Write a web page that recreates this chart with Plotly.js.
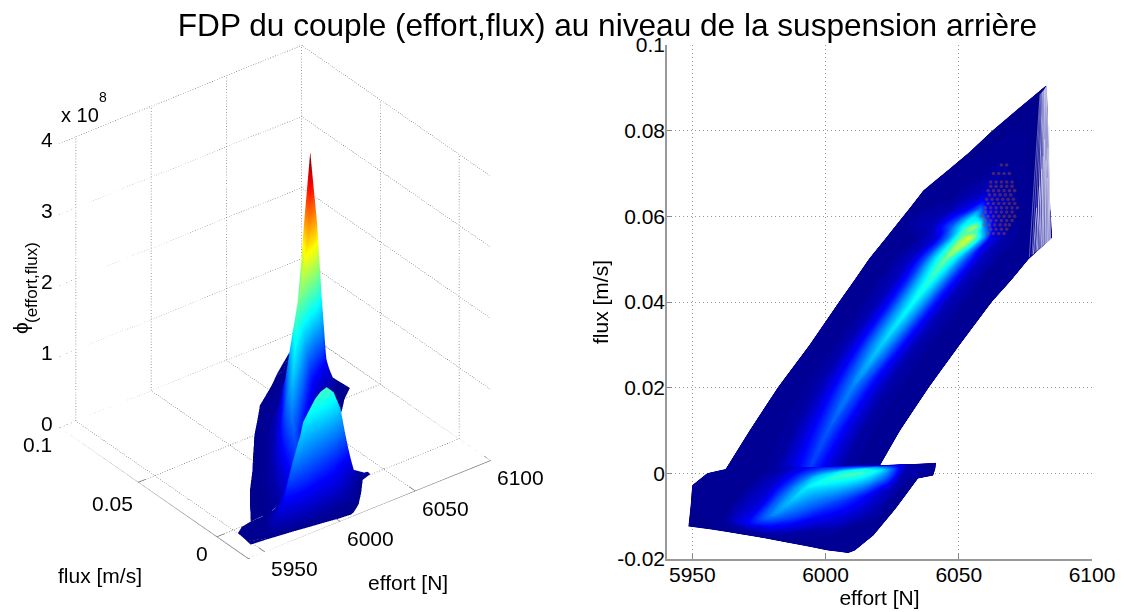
<!DOCTYPE html>
<html><head><meta charset="utf-8">
<script src="https://cdn.plot.ly/plotly-3.0.1.min.js"></script>
<style>html,body{margin:0;padding:0;background:#fff}#g{width:1125px;height:612px}</style>
</head><body><div id="g"></div>
<script>
const effortTicks=[5950,6000,6050,6100];
const fluxTicks2D=[-0.02,0,0.02,0.04,0.06,0.08,0.1];
const fluxTicks3D=[0,0.05,0.1];
const fluxLabelShift=[-15,-26,-22];
const fluxLabelDrop=[-17,-21,-17];
const phiTicks=[0,1,2,3,4];
const jet=[[0,'rgb(0,0,143)'],[0.125,'rgb(0,0,255)'],[0.375,'rgb(0,255,255)'],[0.625,'rgb(255,255,0)'],[0.875,'rgb(255,0,0)'],[1,'rgb(128,0,0)']];

// main ridge sheet: one row per flux level
const bandFlux=[0.001,0.01,0.02,0.03,0.04,0.045,0.05,0.055,0.0575,0.06,0.0615,0.063,0.0645,0.066,0.07,0.075,0.08,0.085,0.0905];
const bandEffort=[
[5962.5,5974,5981,5986,5990,5994,5998,6002,6007,6014,6019.7],
[5971.5,5981,5988,5993,5997,6001,6005,6009,6014,6021,6028],
[5982,5990,5997,6002,6006,6010,6014,6018,6023,6030,6038.7],
[5994,6002,6008,6013,6017,6021,6025,6029,6034,6041,6050.4],
[6005,6014,6020,6025,6029,6033,6037,6041,6046,6053,6062.4],
[6010.7,6019,6026,6031,6035,6039,6043,6047,6052,6059,6069.6],
[6016.2,6025,6032,6037,6041,6045,6049,6053,6058,6065,6076.2],
[6022.7,6034,6041,6046,6050,6054,6058,6062,6067,6074,6085],
[6025.9,6040,6047,6052,6056,6060,6064,6068,6072,6078,6084.8],
[6029.1,6044,6051,6056,6060,6064,6068,6071,6075,6080,6084.6],
[6031,6046,6053,6058,6062,6066,6070,6073,6076,6080,6084.4],
[6032.9,6047,6054,6059,6063,6067,6071,6074,6077,6080,6084.3],
[6034.8,6048,6055,6060,6064,6068,6072,6075,6078,6081,6084.2],
[6036.6,6049,6056,6061,6065,6069,6073,6075.5,6078,6081,6084.1],
[6044.4,6053,6059,6063,6067,6071,6074,6076,6078,6081,6084],
[6054,6060,6064,6067,6070,6073,6075,6077,6079,6081,6083.8],
[6062.5,6067,6070,6072,6074,6076,6077.5,6079,6080,6081.5,6083.6],
[6072,6074,6075.5,6076.5,6078,6079,6080,6081,6082,6082.7,6083.4],
[6082.6,6082.65,6082.7,6082.75,6082.8,6082.85,6082.9,6082.92,6082.95,6082.97,6083]];
const bandPhi=[
[0,.01,.07,.24,.43,.6,.43,.24,.07,.01,0],
[0,.01,.08,.28,.5,.7,.5,.28,.08,.01,0],
[0,.02,.1,.34,.61,.85,.61,.34,.1,.02,0],
[0,.02,.13,.44,.79,1.1,.79,.44,.13,.02,0],
[0,.03,.15,.51,.92,1.28,.92,.51,.15,.03,0],
[0,.03,.17,.56,1.01,1.4,1.01,.56,.17,.03,0],
[0,.03,.19,.64,1.15,1.6,1.15,.64,.19,.03,0],
[0,.04,.24,.8,1.44,2,1.44,.8,.24,.04,0],
[0,.05,.29,.96,1.73,2.4,1.73,.96,.29,.05,0],
[0,.06,.34,1.12,2.02,2.8,2.02,1.12,.34,.06,0],
[0,.07,.39,1.3,2.34,3.25,2.34,1.3,.39,.07,0],
[0,.07,.4,1.34,2.41,3.35,2.41,1.34,.4,.07,0],
[0,.06,.36,1.2,2.16,3,2.16,1.2,.36,.06,0],
[0,.05,.29,.96,1.73,2.4,1.73,.96,.29,.05,0],
[0,.02,.14,.48,.86,1.2,.86,.48,.14,.02,0],
[0,.01,.06,.2,.36,.5,.36,.2,.06,.01,0],
[0,0,.02,.06,.11,.15,.11,.06,.02,0,0],
[0,0,0,.01,.02,.03,.02,.01,0,0,0],
[0,0,0,0,0,0,0,0,0,0,0]];
// same sheet as it reads in the top view, where the spike is lost between grid nodes
const bandPhiTop=[
[0,.01,.07,.24,.43,.6,.43,.24,.07,.01,0],
[0,.01,.08,.28,.5,.7,.5,.28,.08,.01,0],
[0,.02,.1,.34,.61,.85,.61,.34,.1,.02,0],
[0,.02,.13,.44,.79,1.1,.79,.44,.13,.02,0],
[0,.03,.15,.51,.92,1.28,.92,.51,.15,.03,0],
[0,.03,.17,.56,1.01,1.4,1.01,.56,.17,.03,0],
[0,.03,.19,.64,1.15,1.6,1.15,.64,.19,.03,0],
[0,.04,.24,.8,1.44,2,1.2,.35,.1,.02,0],
[0,.15,.7,1.3,1.8,.8,.2,.08,.04,.01,0],
[0,.15,.6,1.15,.6,.2,.08,.04,.02,.01,0],
[0,.1,.4,.8,.3,.12,.06,.03,.02,.01,0],
[0,.06,.25,.5,.22,.1,.05,.03,.01,0,0],
[0,.04,.15,.3,.15,.08,.04,.02,.01,0,0],
[0,.03,.1,.18,.1,.05,.03,.01,0,0,0],
[0,.01,.03,.06,.05,.03,.01,0,0,0,0],
[0,0,.01,.02,.02,.01,0,0,0,0,0],
[0,0,0,0,0,0,0,0,0,0,0],
[0,0,0,0,0,0,0,0,0,0,0],
[0,0,0,0,0,0,0,0,0,0,0]];

// lower fold sheet, rows follow its own crest
const foldEffort=[
[5948.5,5957,5966,5975,5984,5993,6001,6005,6008.5,6009.8,6011,6014,6018],
[5949,5958.5,5968,5977,5986,5995,6004,6007.5,6011,6014.5,6018,6023,6026],
[5949.5,5960,5970,5979,5988,5996,6006,6011,6016,6020.5,6025,6031,6034.7],
[5950,5962,5972,5980,5987,5993,6003,6007.5,6012,6017,6022,6030,6040.4],
[5955.6,5966,5975,5983,5990,5996,6005,6009.5,6014,6019,6024,6032,6041.2],
[5962.5,5970,5978,5985,5992,5998,6007,6011.5,6016,6020.5,6025,6033,6041.5]];
const foldFlux=[
[-.0124,-.0131,-.014,-.0149,-.016,-.017,-.018,-.0183,-.0186,-.0183,-.018,-.0165,-.0145],
[-.0095,-.0125,-.0135,-.0142,-.0142,-.0135,-.0135,-.013,-.0125,-.0122,-.012,-.01,-.0085],
[-.0065,-.0118,-.0128,-.0125,-.0105,-.008,-.0065,-.0058,-.005,-.0042,-.0035,-.0022,-.0012],
[-.0028,-.0108,-.0115,-.0098,-.0065,-.0032,-.001,-.0004,0,.0004,.0008,.0013,-.0005],
[0,-.006,-.0075,-.0055,-.003,-.001,.0003,.0007,.001,.0013,.0016,.002,.001],
[.001,.0011,.0012,.0013,.0014,.0015,.0017,.0018,.0018,.0019,.002,.0022,.0025]];
const foldPhi=[
[0,0,0,0,0,0,0,0,0,0,0,0,0],
[0,0,.02,.05,.08,.08,.05,.04,.03,.025,.02,.01,0],
[0,.01,.15,.4,.6,.68,.6,.52,.42,.28,.15,.03,0],
[0,.03,.45,.85,1.05,1.2,1.4,1.46,1.48,1.36,1.08,.15,.02],
[0,.03,.3,.72,.95,1.08,1.2,1.22,1.2,1,.6,.08,.01],
[0,0,.03,.1,.35,.45,.4,.36,.3,.2,.1,.02,0]];

// speckle of far-away peak seen through the top view, and the hatch at the band's end
const speckleEffort=[6061,6063,6065,6067,6062,6064,6066,6068,6059.5,6061.5,6063.5,6065.5,6067.5,6069,6060,6062,6064,6066,6068,6070,6059,6061,6063,6065,6067,6069,6071,6060,6062,6064,6066,6068,6070,6060,6062,6064,6066,6068,6070,6072,6061,6063,6065,6067,6069,6071,6060.5,6062.5,6064.5,6066.5,6068.5,6070.5,6061.5,6063.5,6065.5,6067.5,6069.5,6061,6063,6065,6067,6069,6071,6062,6064,6066,6068,6070,6062,6064,6066,6068,6070,6063,6065,6067,6069,6066,6068];
const speckleFlux=[.056,.056,.056,.056,.057,.057,.057,.057,.058,.058,.058,.058,.058,.058,.059,.059,.059,.059,.059,.059,.06,.06,.06,.06,.06,.06,.06,.061,.061,.061,.061,.061,.061,.062,.062,.062,.062,.062,.062,.062,.063,.063,.063,.063,.063,.063,.064,.064,.064,.064,.064,.064,.065,.065,.065,.065,.065,.066,.066,.066,.066,.066,.066,.067,.067,.067,.067,.067,.068,.068,.068,.068,.068,.07,.07,.07,.07,.072,.072];
const hatchEffortLow=[6076.5,6077.5,6078.5,6079.5,6080.5,6081.3,6082,6082.7,6083.3,6083.9,6084.4];
const hatchFluxLow=[.0505,.051,.0515,.052,.0525,.053,.0533,.0536,.0539,.0542,.0545];
const hatchEffortHigh=[6080.5,6080.8,6081.1,6081.4,6081.7,6082,6082.2,6082.4,6082.6,6082.8,6083];
const hatchFluxHigh=[.0885,.0887,.0889,.0891,.0893,.0895,.0897,.0899,.0901,.0903,.0905];
const shortHatchEffortLow=[6078,6079,6080,6081,6081.7,6082.4,6083,6083.6,6084.2];
const shortHatchFluxLow=[.0512,.0517,.0522,.0527,.0532,.0535,.0538,.0541,.0544];
const shortHatchEffortHigh=[6079.2,6080.3,6081.1,6081.7,6082.2,6082.8,6083.2,6083.5,6083.8];
const shortHatchFluxHigh=[.062,.067,.071,.074,.078,.073,.069,.076,.081];

const XR=[5940.5,6100],XR3=[5939,6100],YR=[-0.02,0.1],ZR=[0,4];
const PHI_MAX=3.35;
const bandFluxGrid=bandEffort.map((r,i)=>r.map(()=>bandFlux[i]));
const idx=n=>Array.from({length:n},(_,i)=>i);

function surf(x,y,z){return {type:'surface',scene:'scene',x,y,z,colorscale:jet,cmin:0,cmax:PHI_MAX,showscale:false,hoverinfo:'skip',
  lighting:{ambient:1,diffuse:0,specular:0,roughness:1,fresnel:0},contours:{x:{highlight:false},y:{highlight:false},z:{highlight:false}}};}
function carpet(id,x,y){return {type:'carpet',carpet:id,a:idx(x[0].length),b:idx(x.length),x,y,hoverinfo:'skip',xaxis:'x',yaxis:'y',
  aaxis:{showgrid:false,showticklabels:'none',showline:false,startline:false,endline:false,minorgridcount:0,smoothing:0,ticks:''},
  baxis:{showgrid:false,showticklabels:'none',showline:false,startline:false,endline:false,minorgridcount:0,smoothing:0,ticks:''}};}
function cc(id,z){return {type:'contourcarpet',carpet:id,a:idx(z[0].length),b:idx(z.length),z,autocontour:false,
  contours:{start:-.04,end:3.44,size:.04,coloring:'fill',showlines:false},line:{width:0},colorscale:jet,zmin:0,zmax:PHI_MAX,showscale:false,hoverinfo:'skip',xaxis:'x',yaxis:'y'};}

function line3(pts,dash,color,w){return {type:'scatter3d',scene:'scene',mode:'lines',x:pts.map(p=>p[0]),y:pts.map(p=>p[1]),z:pts.map(p=>p[2]),
  line:{color:color,width:w,dash:dash},hoverinfo:'skip',showlegend:false};}
const GC='#444';
const traces=[];
effortTicks.forEach(t=>{traces.push(line3([[t,YR[0],0],[t,YR[1],0],[t,YR[1],ZR[1]]],'dot',GC,1));});
fluxTicks3D.forEach(t=>{traces.push(line3([[XR3[0],t,0],[XR3[1],t,0],[XR3[1],t,ZR[1]]],'dot',GC,1));});
phiTicks.forEach(t=>{traces.push(line3([[XR3[0],YR[1],t],[XR3[1],YR[1],t],[XR3[1],YR[0],t]],'dot',GC,1));});
traces.push(line3([[XR3[0],YR[1],0],[XR3[0],YR[0],0],[XR3[1],YR[0],0]],'solid','#777',1.5));
effortTicks.forEach(t=>traces.push(line3([[t,YR[0],0],[t,YR[0]+.004,0]],'solid','#777',1.5)));
fluxTicks3D.forEach(t=>traces.push(line3([[XR3[0],t,0],[XR3[0]+5,t,0]],'solid','#777',1.5)));
traces.push(surf(bandEffort,bandFluxGrid,bandPhi));
traces.push(surf(foldEffort,foldFlux,foldPhi));
traces.push(carpet('A',bandEffort,bandFluxGrid),cc('A',bandPhiTop));
traces.push(carpet('B',foldEffort,foldFlux),cc('B',foldPhi));
hatchEffortLow.forEach((e,i)=>traces.push({type:'scatter',mode:'lines',x:[e,hatchEffortHigh[i]],y:[hatchFluxLow[i],hatchFluxHigh[i]],line:{color:'rgba(235,235,250,'+(i<3?.4:.7)+')',width:1},hoverinfo:'skip',xaxis:'x',yaxis:'y'}));
shortHatchEffortLow.forEach((e,i)=>traces.push({type:'scatter',mode:'lines',x:[e,shortHatchEffortHigh[i]],y:[shortHatchFluxLow[i],shortHatchFluxHigh[i]],line:{color:'rgba(225,225,240,.7)',width:1},hoverinfo:'skip',xaxis:'x',yaxis:'y'}));
traces.push({type:'scatter',mode:'markers',x:speckleEffort,y:speckleFlux,marker:{size:3.6,color:'rgba(155,75,60,.45)',line:{width:0}},hoverinfo:'skip',xaxis:'x',yaxis:'y'});

const ff='Liberation Sans, Arial, sans-serif';
const tf={family:ff,size:21,color:'#000'};
const sa=[];
effortTicks.forEach(t=>sa.push({x:t,y:YR[0],z:0,text:String(t),showarrow:false,font:tf,xanchor:'center',yanchor:'middle',xshift:30,yshift:-17}));
fluxTicks3D.forEach((t,i)=>sa.push({x:XR3[0],y:t,z:0,text:String(t),showarrow:false,font:tf,xanchor:'center',yanchor:'middle',xshift:fluxLabelShift[i],yshift:fluxLabelDrop[i]}));
phiTicks.forEach(t=>sa.push({x:XR3[0],y:YR[1],z:t,text:String(t),showarrow:false,font:tf,xanchor:'center',yanchor:'middle',xshift:-12,yshift:4}));

const ax=()=>({showgrid:false,zeroline:false,showline:false,showticklabels:false,ticks:'',showbackground:false,showspikes:false,title:{text:''}});
const f21={family:ff,size:21,color:'#000'};
const note=(x,y,text,font,extra)=>Object.assign({xref:'paper',yref:'paper',x:x/1125,y:1-y/612,xanchor:'center',yanchor:'middle',text,showarrow:false,font},extra||{});
const layout={width:1125,height:612,margin:{l:0,r:0,t:0,b:0},paper_bgcolor:'#fff',plot_bgcolor:'#fff',showlegend:false,
 title:{text:'FDP du couple (effort,flux) au niveau de la suspension arrière',x:607.5/1125,xanchor:'center',y:1-25/612,yanchor:'middle',font:{family:ff,size:31.6,color:'#000'}},
 scene:{domain:{x:[0,.489],y:[.013,1]},aspectmode:'manual',aspectratio:{x:1.01,y:1.03,z:1.11},
  camera:{projection:{type:'orthographic'},eye:{x:-.928,y:-1.213,z:.953},up:{x:0,y:0,z:1},center:{x:0,y:0,z:0}},
  xaxis:Object.assign(ax(),{range:XR3,autorange:false}),yaxis:Object.assign(ax(),{range:YR,autorange:false}),zaxis:Object.assign(ax(),{range:ZR,autorange:false}),
  annotations:sa,bgcolor:'rgba(0,0,0,0)'},
 xaxis:{domain:[667/1125,1092/1125],range:XR,tickvals:effortTicks,ticks:'inside',ticklen:5,tickcolor:'#888',linecolor:'#999',linewidth:1.5,showline:true,mirror:false,gridcolor:'#999',griddash:'1px,3px',gridwidth:1,zeroline:false,tickfont:tf,ticklabelstandoff:-4,title:{text:'effort [N]',font:f21,standoff:0},anchor:'y'},
 yaxis:{domain:[(612-559)/612,(612-45)/612],range:YR,tickvals:fluxTicks2D,ticktext:['-0.02','0','0.02','0.04','0.06','0.08','0.1'],ticks:'inside',ticklen:5,tickcolor:'#888',linecolor:'#999',linewidth:1.5,showline:true,mirror:false,gridcolor:'#999',griddash:'1px,3px',gridwidth:1,zeroline:false,tickfont:tf,ticklabelstandoff:-4,title:{text:'flux [m/s]',font:f21,standoff:3},anchor:'x'},
 annotations:[
  note(100,575,'flux [m/s]',f21),
  note(408,582,'effort [N]',f21),
  note(20,328,'ϕ',f21,{textangle:-90}),
  note(31,283,'(effort,flux)',{family:ff,size:17,color:'#000'},{textangle:-90}),
  note(80,115,'x 10',{family:ff,size:20,color:'#000'}),
  note(103,97,'8',{family:ff,size:14,color:'#000'})
 ]};
Plotly.newPlot('g',traces,layout,{displayModeBar:false});
</script></body></html>
